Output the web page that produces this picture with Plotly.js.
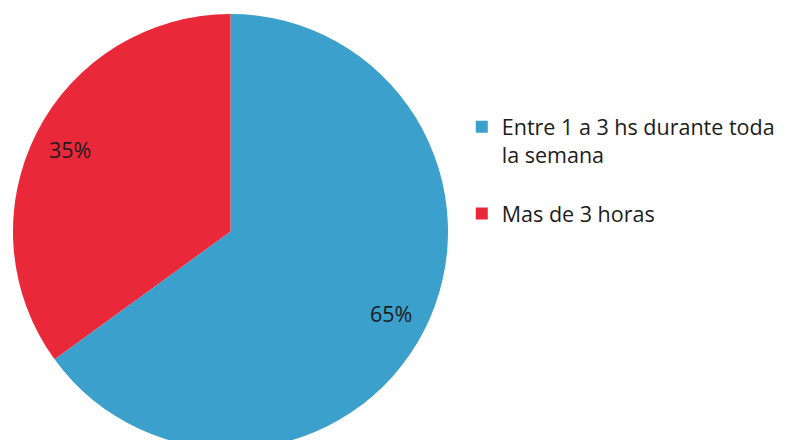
<!DOCTYPE html>
<html>
<head>
<meta charset="utf-8">
<script src="https://cdn.plot.ly/plotly-3.0.1.min.js"></script>
<style>
html,body{margin:0;padding:0;overflow:hidden;background:#fff;width:788px;height:440px;}
#chart{width:788px;height:449px;}
</style>
</head>
<body>
<div id="chart"></div>
<script>
const categories = ["Entre 1 a 3 hs durante toda<br>la semana<br> ", "Mas de 3 horas"];
const values = [65, 35];
const sliceColors = ["#3ba0cb", "#e9283a"];
const labelText = ["65%", "35%"];

(function () {
  const W = 788, H = 449;
  const cx = 230.5, cy = 231.5, R = 217.5;
  const topMargin = 14;
  const plotH = H - topMargin;
  const fontFam = "'Open Sans', 'Noto Sans', sans-serif";

  // label annotations placed along slice mid-angle (computed from data)
  const total = values.reduce((a, b) => a + b, 0);
  let cum = 0;
  const annotations = values.map((v, i) => {
    const mid = (cum + v / 2) / total * 2 * Math.PI;
    cum += v;
    const r = 0.83 * R;
    const px = cx + r * Math.sin(mid);
    const py = cy - r * Math.cos(mid);
    return {
      x: px / W, y: (H - py) / plotH, xref: "paper", yref: "paper",
      text: labelText[i], showarrow: false,
      font: {family: fontFam, size: 21.5, color: "#1c1c1c"},
      xanchor: "center", yanchor: "middle"
    };
  });

  const trace = {
    type: "pie",
    labels: categories,
    values: values,
    sort: false,
    direction: "clockwise",
    rotation: 0,
    textinfo: "none",
    hoverinfo: "label+percent",
    marker: {colors: sliceColors, line: {width: 0}},
    domain: {x: [(cx - R) / W, (cx + R) / W], y: [0, 1]}
  };

  const layout = {
    width: W, height: H,
    margin: {l: 0, r: 0, t: topMargin, b: 0, pad: 0},
    paper_bgcolor: "#ffffff",
    plot_bgcolor: "#ffffff",
    showlegend: true,
    legend: {
      x: 0.586, y: 0.788, xanchor: "left", yanchor: "top",
      valign: "top",
      font: {family: fontFam, size: 21.5, color: "#1c1c1c"},
      bgcolor: "rgba(0,0,0,0)",
      itemwidth: 30
    },
    annotations: annotations
  };

  Plotly.newPlot("chart", [trace], layout, {displayModeBar: false, staticPlot: true});
})();
</script>
</body>
</html>
